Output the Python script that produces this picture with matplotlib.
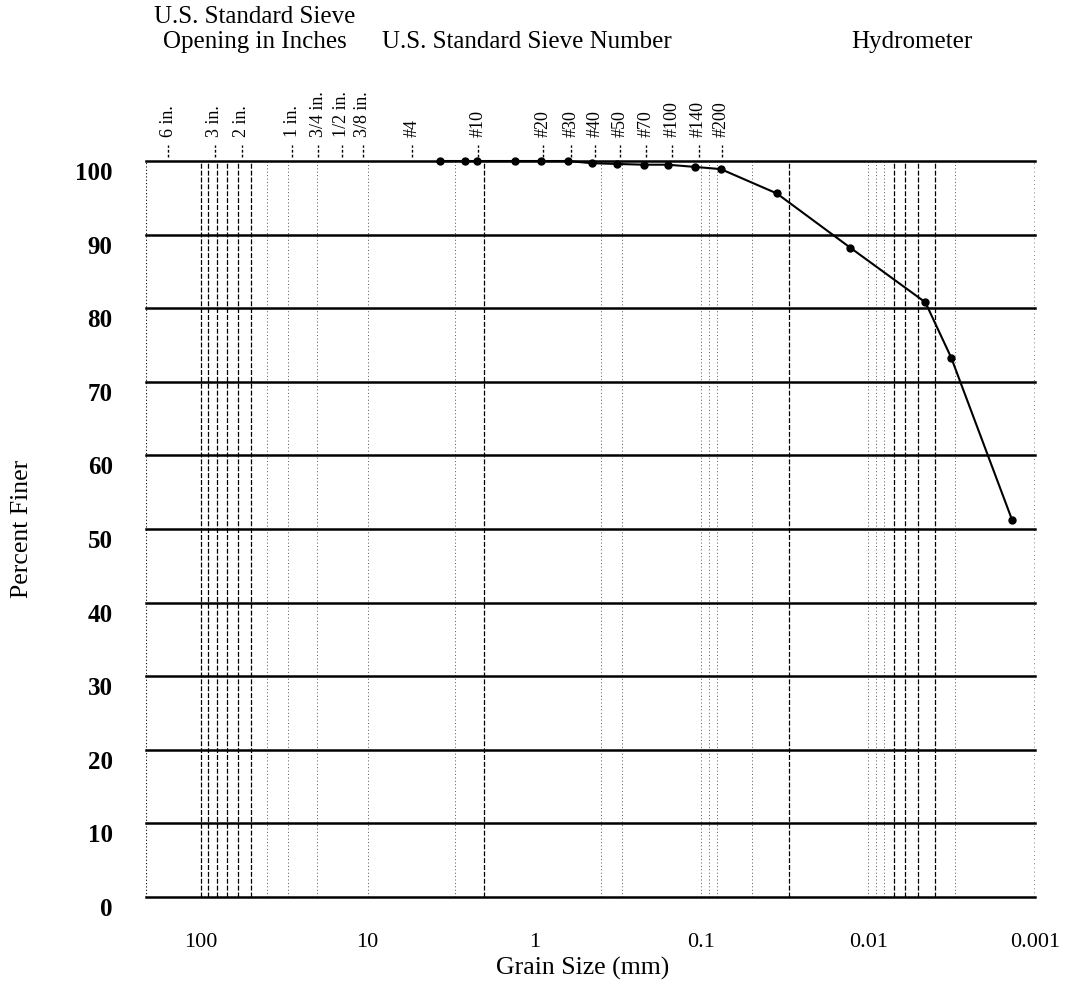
import matplotlib
matplotlib.use("Agg")
import matplotlib.pyplot as plt
import matplotlib.transforms as mtransforms

plt.rcParams['font.family'] = ['Liberation Serif', 'DejaVu Serif']

# grain size distribution
grain_mm = [3.67, 2.61, 2.21, 1.31, 0.913, 0.629, 0.452, 0.321, 0.221, 0.159,
            0.1096, 0.0764, 0.0353, 0.01276, 0.00454, 0.00318, 0.00137]
pct_finer = [100, 100, 100, 100, 100, 100, 99.7, 99.6, 99.5, 99.5,
             99.2, 98.9, 95.6, 88.2, 80.8, 73.3, 51.2]

# sieve marks along the top
sieve_labels = ['6 in.', '3 in.', '2 in.', '1 in.', '3/4 in.', '1/2 in.', '3/8 in.',
                '#4', '#10', '#20', '#30', '#40', '#50', '#70', '#100', '#140', '#200']
sieve_mm = [157, 82.5, 56.9, 28.2, 19.7, 14.3, 10.7,
            5.40, 2.17, 0.888, 0.604, 0.434, 0.308, 0.215, 0.150, 0.1037, 0.0755]

x_ticks = [100, 10, 1, 0.1, 0.01, 0.001]
x_ticklabels = ['100', '10', '1', '0.1', '0.01', '0.001']
y_ticks = list(range(0, 101, 10))

# vertical grid (as it shows up on the scan)
grid_strong = [100, 90, 80, 70, 60, 50, 2, 0.03, 0.007, 0.006, 0.005, 0.004]
grid_faint = [40, 30, 20, 10, 3, 0.4, 0.3, 0.1, 0.09, 0.08, 0.05,
              0.01, 0.009, 0.008, 0.003]

fig = plt.figure(figsize=(10.67, 9.89), dpi=100)
ax = fig.add_axes([0.1368, 0.0930, 0.8332, 0.7442])
ax.set_xscale('log')
ax.set_xlim(213, 0.001)
ax.set_ylim(0, 100)

for s in ax.spines.values():
    s.set_visible(False)

for g in grid_faint:
    ax.axvline(g, color='#555555', lw=0.7, ls=(0, (1, 2.5)), zorder=1)
for g in grid_strong:
    ax.axvline(g, color='black', lw=0.9, ls=(0, (4, 1.5)), zorder=1)
ax.axvline(213, color='black', lw=0.8, ls=(0, (1, 2)), zorder=1)
ax.axvline(0.00101, color='#555555', lw=0.6, ls=(0, (1, 4)), zorder=1)

for v in y_ticks:
    ax.axhline(v, color='black', lw=1.8, zorder=2, clip_on=False)

ax.plot(grain_mm, pct_finer, color='black', lw=1.5, marker='o', ms=5,
        zorder=3, clip_on=False)

ax.set_xticks(x_ticks)
ax.set_xticklabels(x_ticklabels, fontsize=16)
ax.minorticks_off()
ax.set_yticks(y_ticks)
ax.set_yticklabels([str(v) for v in y_ticks], fontsize=18, fontweight='bold')
ax.tick_params(axis='both', length=0)
ax.tick_params(axis='x', pad=26)
ax.tick_params(axis='y', pad=24)
shift = mtransforms.ScaledTranslation(0, -10 / 100, fig.dpi_scale_trans)
for lbl in ax.get_yticklabels():
    lbl.set_transform(lbl.get_transform() + shift)

ax.set_ylabel('Percent Finer', fontsize=18.5, labelpad=30)
fig.text(583 / 1067, 1 - 968 / 989, 'Grain Size (mm)', ha='center', va='center',
         fontsize=18.5)

# sieve ticks and labels above the frame
top = mtransforms.blended_transform_factory(ax.transData, ax.transAxes)
for lab, mm in zip(sieve_labels, sieve_mm):
    ax.plot([mm, mm], [1.006, 1.022], color='black', lw=1.0, ls=(0, (2, 1.5)),
            transform=top, clip_on=False)
    ax.text(mm, 1.032, lab, rotation=90, ha='center', va='bottom',
            fontsize=13, transform=top)

fig.text(255 / 1067, 1 - 17 / 989, 'U.S. Standard Sieve',
         ha='center', va='center', fontsize=18)
fig.text(255 / 1067, 1 - 42 / 989, 'Opening in Inches',
         ha='center', va='center', fontsize=18)
fig.text(527 / 1067, 1 - 42 / 989, 'U.S. Standard Sieve Number',
         ha='center', va='center', fontsize=18)
fig.text(912 / 1067, 1 - 42 / 989, 'Hydrometer',
         ha='center', va='center', fontsize=18)

fig.savefig('out.png', dpi=100)
